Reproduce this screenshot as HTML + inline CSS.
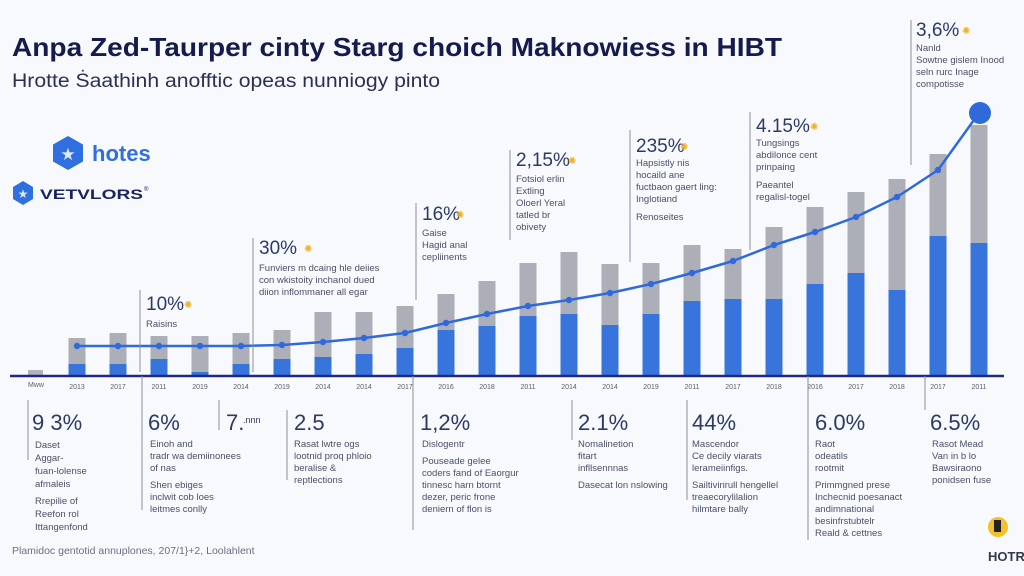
<!DOCTYPE html>
<html><head><meta charset="utf-8"><style>
html,body{margin:0;padding:0;background:#f8f9fc;}
svg{display:block;font-family:"Liberation Sans",sans-serif;}
.yr{font-size:7px;fill:#5a6070}
.big{font-size:22px;fill:#2b3a66}
.sm{font-size:9.5px;fill:#4a5068}
.pct{font-size:19px;fill:#2b3a66}
.vl{stroke:#8a90a0;stroke-width:1}
.g{fill:#acaeb8}
.b{fill:#3775dc}
</style></head><body>
<svg width="1024" height="576" viewBox="0 0 1024 576">
<rect width="1024" height="576" fill="#f8f9fc"/>
<text x="12" y="56" font-size="26" font-weight="bold" fill="#141b4d" textLength="770" lengthAdjust="spacingAndGlyphs">Anpa Zed-Taurper cinty Starg choich Maknowiess in HIBT</text>
<text x="12" y="87" font-size="19" fill="#2b3050" textLength="428" lengthAdjust="spacingAndGlyphs">Hrotte Ṡaathinh anofftic opeas nunniogy pinto</text>

<polygon points="68,136 83,144.5 83,161.5 68,170 53,161.5 53,144.5" fill="#2f6fe0"/>
<text x="68" y="160" font-size="17" fill="#dfe9ff" text-anchor="middle">★</text>
<text x="92" y="161" font-size="22" font-weight="bold" fill="#2f6fe0">hotes</text>
<polygon points="23,181 33,187 33,199 23,205 13,199 13,187" fill="#2f6fe0"/>
<text x="23" y="198" font-size="12" fill="#dfe9ff" text-anchor="middle">★</text>
<text x="40" y="199" font-size="14" font-weight="bold" fill="#1a2460" textLength="103" lengthAdjust="spacingAndGlyphs">VETVLORS</text>
<text x="144" y="191" font-size="6" fill="#1a2460">®</text>

<rect x="28" y="370" width="15" height="6" fill="#b0b2bc"/>
<rect class="g" x="68.5" y="338" width="17" height="38"/><rect class="b" x="68.5" y="364" width="17" height="12"/>
<rect class="g" x="109.5" y="333" width="17" height="43"/><rect class="b" x="109.5" y="364" width="17" height="12"/>
<rect class="g" x="150.5" y="336" width="17" height="40"/><rect class="b" x="150.5" y="359" width="17" height="17"/>
<rect class="g" x="191.5" y="336" width="17" height="40"/><rect class="b" x="191.5" y="372" width="17" height="4"/>
<rect class="g" x="232.5" y="333" width="17" height="43"/><rect class="b" x="232.5" y="364" width="17" height="12"/>
<rect class="g" x="273.5" y="330" width="17" height="46"/><rect class="b" x="273.5" y="359" width="17" height="17"/>
<rect class="g" x="314.5" y="312" width="17" height="64"/><rect class="b" x="314.5" y="357" width="17" height="19"/>
<rect class="g" x="355.5" y="312" width="17" height="64"/><rect class="b" x="355.5" y="354" width="17" height="22"/>
<rect class="g" x="396.5" y="306" width="17" height="70"/><rect class="b" x="396.5" y="348" width="17" height="28"/>
<rect class="g" x="437.5" y="294" width="17" height="82"/><rect class="b" x="437.5" y="330" width="17" height="46"/>
<rect class="g" x="478.5" y="281" width="17" height="95"/><rect class="b" x="478.5" y="326" width="17" height="50"/>
<rect class="g" x="519.5" y="263" width="17" height="113"/><rect class="b" x="519.5" y="316" width="17" height="60"/>
<rect class="g" x="560.5" y="252" width="17" height="124"/><rect class="b" x="560.5" y="314" width="17" height="62"/>
<rect class="g" x="601.5" y="264" width="17" height="112"/><rect class="b" x="601.5" y="325" width="17" height="51"/>
<rect class="g" x="642.5" y="263" width="17" height="113"/><rect class="b" x="642.5" y="314" width="17" height="62"/>
<rect class="g" x="683.5" y="245" width="17" height="131"/><rect class="b" x="683.5" y="301" width="17" height="75"/>
<rect class="g" x="724.5" y="249" width="17" height="127"/><rect class="b" x="724.5" y="299" width="17" height="77"/>
<rect class="g" x="765.5" y="227" width="17" height="149"/><rect class="b" x="765.5" y="299" width="17" height="77"/>
<rect class="g" x="806.5" y="207" width="17" height="169"/><rect class="b" x="806.5" y="284" width="17" height="92"/>
<rect class="g" x="847.5" y="192" width="17" height="184"/><rect class="b" x="847.5" y="273" width="17" height="103"/>
<rect class="g" x="888.5" y="179" width="17" height="197"/><rect class="b" x="888.5" y="290" width="17" height="86"/>
<rect class="g" x="929.5" y="154" width="17" height="222"/><rect class="b" x="929.5" y="236" width="17" height="140"/>
<rect class="g" x="970.5" y="125" width="17" height="251"/><rect class="b" x="970.5" y="243" width="17" height="133"/>

<polyline points="77,346 118,346 159,346 200,346 241,346 282,345 323,342 364,338 405,333 446,323 487,314 528,306 569,300 610,293 651,284 692,273 733,261 774,245 815,232 856,217 897,197 938,170 979,113" fill="none" stroke="#2f6adb" stroke-width="2.5" stroke-linejoin="round"/>
<g fill="#2f6adb">
<circle cx="77" cy="346" r="3.2"/><circle cx="118" cy="346" r="3.2"/><circle cx="159" cy="346" r="3.2"/><circle cx="200" cy="346" r="3.2"/><circle cx="241" cy="346" r="3.2"/><circle cx="282" cy="345" r="3.2"/><circle cx="323" cy="342" r="3.2"/><circle cx="364" cy="338" r="3.2"/><circle cx="405" cy="333" r="3.2"/><circle cx="446" cy="323" r="3.2"/><circle cx="487" cy="314" r="3.2"/><circle cx="528" cy="306" r="3.2"/><circle cx="569" cy="300" r="3.2"/><circle cx="610" cy="293" r="3.2"/><circle cx="651" cy="284" r="3.2"/><circle cx="692" cy="273" r="3.2"/><circle cx="733" cy="261" r="3.2"/><circle cx="774" cy="245" r="3.2"/><circle cx="815" cy="232" r="3.2"/><circle cx="856" cy="217" r="3.2"/><circle cx="897" cy="197" r="3.2"/><circle cx="938" cy="170" r="3.2"/>
<circle cx="980" cy="113" r="11"/>
</g>
<line x1="10" y1="376" x2="1004" y2="376" stroke="#1e2a80" stroke-width="2.5"/>
<g class="yr" text-anchor="middle">
<text class="yr" x="36" y="387">Mww</text>
<text class="yr" x="77" y="389">2013</text><text class="yr" x="118" y="389">2017</text><text class="yr" x="159" y="389">2011</text><text class="yr" x="200" y="389">2019</text><text class="yr" x="241" y="389">2014</text><text class="yr" x="282" y="389">2019</text><text class="yr" x="323" y="389">2014</text><text class="yr" x="364" y="389">2014</text><text class="yr" x="405" y="389">2017</text><text class="yr" x="446" y="389">2016</text><text class="yr" x="487" y="389">2018</text><text class="yr" x="528" y="389">2011</text><text class="yr" x="569" y="389">2014</text><text class="yr" x="610" y="389">2014</text><text class="yr" x="651" y="389">2019</text><text class="yr" x="692" y="389">2011</text><text class="yr" x="733" y="389">2017</text><text class="yr" x="774" y="389">2018</text><text class="yr" x="815" y="389">2016</text><text class="yr" x="856" y="389">2017</text><text class="yr" x="897" y="389">2018</text><text class="yr" x="938" y="389">2017</text><text class="yr" x="979" y="389">2011</text>
</g>

<g>
<line class="vl" x1="140" y1="290" x2="140" y2="372"/>
<text class="pct" x="146" y="310">10%</text><text x="184" y="308" font-size="10" fill="#f0b020">✺</text>
<text class="sm" x="146" y="327">Raisins</text>
<line class="vl" x1="253" y1="238" x2="253" y2="372"/>
<text class="pct" x="259" y="254">30%</text><text x="304" y="252" font-size="10" fill="#f0b020">✺</text>
<text class="sm" x="259" y="271">Funviers m dcaing hle deiies</text>
<text class="sm" x="259" y="283">con wkistoity inchanol dued</text>
<text class="sm" x="259" y="295">diion inflommaner all egar</text>
<line class="vl" x1="416" y1="203" x2="416" y2="300"/>
<text class="pct" x="422" y="220">16%</text><text x="456" y="218" font-size="10" fill="#f0b020">✺</text>
<text class="sm" x="422" y="236">Gaise</text>
<text class="sm" x="422" y="248">Hagid anal</text>
<text class="sm" x="422" y="260">cepliinents</text>
<line class="vl" x1="510" y1="150" x2="510" y2="240"/>
<text class="pct" x="516" y="166">2,15%</text><text x="568" y="164" font-size="10" fill="#f0b020">✺</text>
<text class="sm" x="516" y="182">Fotsiol erlin</text>
<text class="sm" x="516" y="194">Extling</text>
<text class="sm" x="516" y="206">Oloerl Yeral</text>
<text class="sm" x="516" y="218">tatled br</text>
<text class="sm" x="516" y="230">obivety</text>
<line class="vl" x1="630" y1="130" x2="630" y2="262"/>
<text class="pct" x="636" y="152">235%</text><text x="680" y="150" font-size="10" fill="#f0b020">✺</text>
<text class="sm" x="636" y="166">Hapsistly nis</text>
<text class="sm" x="636" y="178">hocaild ane</text>
<text class="sm" x="636" y="190">fuctbaon gaert ling:</text>
<text class="sm" x="636" y="202">Inglotiand</text>
<text class="sm" x="636" y="220">Renoseites</text>
<line class="vl" x1="750" y1="112" x2="750" y2="250"/>
<text class="pct" x="756" y="132">4.15%</text><text x="810" y="130" font-size="10" fill="#f0b020">✺</text>
<text class="sm" x="756" y="146">Tungsings</text>
<text class="sm" x="756" y="158">abdilonce cent</text>
<text class="sm" x="756" y="170">prinpaing</text>
<text class="sm" x="756" y="188">Paeantel</text>
<text class="sm" x="756" y="200">regalisl-togel</text>
<line class="vl" x1="911" y1="20" x2="911" y2="165"/>
<text class="pct" x="916" y="36">3,6%</text><text x="962" y="34" font-size="10" fill="#f0b020">✺</text>
<text class="sm" x="916" y="51" font-size="8">Nanld</text>
<text class="sm" x="916" y="63">Sowtne gislem Inood</text>
<text class="sm" x="916" y="75">seln rurc Inage</text>
<text class="sm" x="916" y="87">compotisse</text>
</g>

<g>
<line class="vl" x1="28" y1="400" x2="28" y2="460"/>
<text class="big" x="32" y="430">9 3%</text>
<text class="sm" x="35" y="448">Daset</text><text class="sm" x="35" y="461">Aggar-</text><text class="sm" x="35" y="474">fuan-lolense</text><text class="sm" x="35" y="487">afmaleis</text>
<text class="sm" x="35" y="504">Rrepilie of</text><text class="sm" x="35" y="517">Reefon rol</text><text class="sm" x="35" y="530">Ittangenfond</text>
<line class="vl" x1="142" y1="376" x2="142" y2="510"/>
<text class="big" x="148" y="430">6%</text>
<text class="sm" x="150" y="447">Einoh and</text><text class="sm" x="150" y="459">tradr wa demiinonees</text><text class="sm" x="150" y="471">of nas</text>
<text class="sm" x="150" y="488">Shen ebiges</text><text class="sm" x="150" y="500">inclwit cob loes</text><text class="sm" x="150" y="512">leitmes conlly</text>
<line class="vl" x1="219" y1="400" x2="219" y2="430"/>
<text class="big" x="226" y="430">7.</text><text x="243" y="423" font-size="9" fill="#2b3a66">.nnn</text>
<line class="vl" x1="287" y1="410" x2="287" y2="480"/>
<text class="big" x="294" y="430">2.5</text>
<text class="sm" x="294" y="447">Rasat lwtre ogs</text><text class="sm" x="294" y="459">lootnid proq phloio</text><text class="sm" x="294" y="471">beralise &amp;</text><text class="sm" x="294" y="483">reptlections</text>
<line class="vl" x1="413" y1="376" x2="413" y2="530"/>
<text class="big" x="420" y="430">1,2%</text>
<text class="sm" x="422" y="447">Dislogentr</text>
<text class="sm" x="422" y="464">Pouseade gelee</text><text class="sm" x="422" y="476">coders fand of Eaorgur</text><text class="sm" x="422" y="488">tinnesc harn btornt</text><text class="sm" x="422" y="500">dezer, peric frone</text><text class="sm" x="422" y="512">deniern of flon is</text>
<line class="vl" x1="572" y1="400" x2="572" y2="440"/>
<text class="big" x="578" y="430">2.1%</text>
<text class="sm" x="578" y="447">Nomalinetion</text><text class="sm" x="578" y="459">fitart</text><text class="sm" x="578" y="471">infllsennnas</text><text class="sm" x="578" y="488">Dasecat lon nslowing</text>
<line class="vl" x1="687" y1="400" x2="687" y2="500"/>
<text class="big" x="692" y="430">44%</text>
<text class="sm" x="692" y="447">Mascendor</text><text class="sm" x="692" y="459">Ce decily viarats</text><text class="sm" x="692" y="471">lerameiinfigs.</text><text class="sm" x="692" y="488">Sailtivinrull hengellel</text><text class="sm" x="692" y="500">treaecorylilalion</text><text class="sm" x="692" y="512">hilmtare bally</text>
<line class="vl" x1="808" y1="376" x2="808" y2="540"/>
<text class="big" x="815" y="430">6.0%</text>
<text class="sm" x="815" y="447">Raot</text><text class="sm" x="815" y="459">odeatils</text><text class="sm" x="815" y="471">rootmit</text>
<text class="sm" x="815" y="488">Primmgned prese</text><text class="sm" x="815" y="500">Inchecnid poesanact</text><text class="sm" x="815" y="512">andimnational</text><text class="sm" x="815" y="524">besinfrstubtelr</text><text class="sm" x="815" y="536">Reald &amp; cettnes</text>
<line class="vl" x1="925" y1="376" x2="925" y2="410"/>
<text class="big" x="930" y="430">6.5%</text>
<text class="sm" x="932" y="447">Rasot Mead</text><text class="sm" x="932" y="459">Van in b lo</text><text class="sm" x="932" y="471">Bawsiraono</text><text class="sm" x="932" y="483">ponidsen fuse</text>
</g>

<text x="12" y="554" font-size="10.5" fill="#6a7080">Plamidoc gentotid annuplones,  207/1}+2, Loolahlent</text>
<circle cx="998" cy="527" r="10" fill="#f2c22a"/><rect x="994" y="520" width="7" height="12" fill="#222"/>
<text x="988" y="561" font-size="13" font-weight="bold" fill="#333a4a">HOTR</text>
</svg>
</body></html>
